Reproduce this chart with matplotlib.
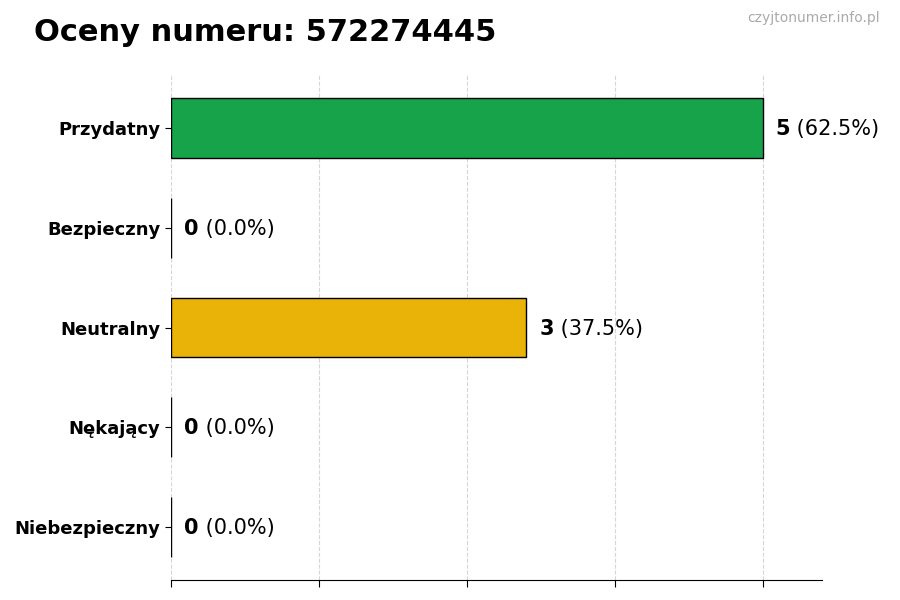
import matplotlib
matplotlib.use("Agg")
import matplotlib.pyplot as plt

categories = ["Przydatny", "Bezpieczny", "Neutralny", "Nękający", "Niebezpieczny"]
values = [5, 0, 3, 0, 0]
colors = ["#17a34a", "#3b82f6", "#eab308", "#f97316", "#dc2626"]
title = "Oceny numeru: 572274445"
watermark = "czyjtonumer.info.pl"

total = sum(values)
fig = plt.figure(figsize=(9, 6), dpi=100)
ax = fig.add_axes([0.19, 0.0333, 0.7233, 0.8417])

ypos = list(range(len(categories)))[::-1]
ax.barh(ypos, values, height=0.6, color=colors, edgecolor="black", linewidth=1, zorder=3)
ax.set_yticks(ypos)
ax.set_yticklabels(categories, fontsize=13, fontweight="bold")
vmax = max(values)
ax.set_xlim(0, vmax * 1.1)
ax.set_xticks([vmax * i / 4 for i in range(5)])
ax.set_xticklabels([])
ax.tick_params(axis="x", length=5)
ax.tick_params(axis="y", length=4)
ax.grid(axis="x", linestyle="--", color="#d6d6d6", linewidth=0.8, zorder=0)
for s in ["top", "right", "left"]:
    ax.spines[s].set_visible(False)

for y, v in zip(ypos, values):
    pct = 100.0 * v / total if total else 0
    t = ax.text(v + vmax * 0.022, y - 0.01, f"{v}", fontsize=15, fontweight="bold", va="center", ha="left")
    ax.annotate(f" ({pct:.1f}%)", xy=(1, 0.5), xycoords=t, fontsize=15, va="center", ha="left")

fig.text(34 / 900, 1 - 41 / 600, title, fontsize=22, fontweight="bold", va="baseline", ha="left")
fig.text(880 / 900, 1 - 22 / 600, watermark, fontsize=10, color="#aaaaaa", va="baseline", ha="right")

fig.savefig("out.png", dpi=100)
